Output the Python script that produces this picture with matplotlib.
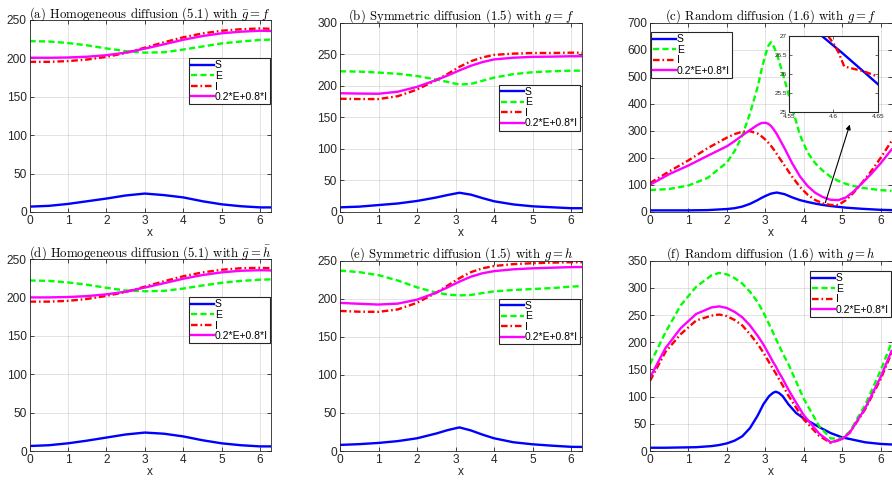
import numpy as np
import matplotlib
matplotlib.use("Agg")
import matplotlib.pyplot as plt

plt.rcParams['font.family'] = 'Liberation Sans'
plt.rcParams['mathtext.fontset'] = 'cm'

# x grids used for the read-off samples
xa = [0, 0.5, 1, 1.5, 2, 2.5, 3, 3.5, 4, 4.5, 5, 5.5, 6, 6.283]
xb = [0, 0.5, 1, 1.5, 2, 2.5, 2.8, 3.1, 3.4, 3.7, 4, 4.5, 5, 5.5, 6, 6.283]
xc = [0, 0.5, 1, 1.5, 2, 2.2, 2.4, 2.6, 2.8, 2.9, 3.0, 3.08, 3.15, 3.22, 3.3,
      3.5, 3.7, 3.9, 4.1, 4.3, 4.5, 4.7, 4.9, 5.1, 5.3, 5.5, 5.75, 6.0, 6.283]
xf = [0, 0.4, 0.8, 1.2, 1.6, 1.8, 2.0, 2.2, 2.4, 2.6, 2.8, 2.95, 3.1, 3.2, 3.27,
      3.35, 3.45, 3.6, 3.8, 4.0, 4.4, 4.7, 5.0, 5.2, 5.6, 6.0, 6.283]

# (a) homogeneous, g = f
Sa = [7, 8, 10.5, 14, 17.5, 21.5, 24, 22, 19, 14, 10, 7.5, 6, 6]
Ea = [222.5, 222, 220, 217, 213, 209.5, 207.5, 208, 211.5, 215.5, 219.5, 222, 224, 224.5]
Ia = [195.5, 195.5, 196.5, 198.5, 202, 207, 214, 221, 227.5, 232.5, 236, 238, 239, 238.5]
Ma = [200.9, 200.8, 201.2, 202.2, 204.2, 207.5, 212.7, 218.4, 224.3, 229.1, 232.7, 234.8, 236, 235.7]

# (b) symmetric, g = f
Sb = [7.4, 8.5, 11, 13.5, 17.5, 23, 27, 30.5, 27.5, 22, 17, 12, 9, 7.5, 6, 6]
Eb = [223, 222.5, 221, 219, 215.5, 210, 206, 202, 203, 208, 213, 218.5, 221.5, 223, 224, 224]
Ib = [179.5, 179, 179, 183.5, 194, 209, 219, 230, 239, 245, 249, 251, 252, 252, 252.5, 252.5]
Mb = [188.2, 187.7, 187.4, 190.6, 198.3, 209.2, 216.4, 224.4, 231.8, 237.6, 241.8, 244.5,
      245.9, 246.2, 246.8, 246.8]

# (c) random, g = f
Sc = [6, 6, 6, 7, 11, 14, 20, 30, 44, 52, 59, 64, 68, 70, 72,
      66, 54, 44, 37, 31, 26, 22, 19, 16, 14, 12, 10, 8, 7]
Ec = [81, 85, 98, 126, 183, 225, 282, 364, 462, 525, 580, 615, 628, 612, 585,
      490, 385, 285, 220, 180, 152, 130, 115, 104, 96, 90, 85, 81, 78]
Ic = [107, 150, 191, 236, 275, 288, 297, 299, 290, 280, 268, 256, 244, 231, 214,
      172, 130, 93, 64, 44, 32, 26, 26, 44, 72, 105, 150, 200, 262]
Mc = [101, 140, 172, 208, 243, 262, 283, 303, 322, 329, 330, 326, 318, 305, 288,
      236, 180, 132, 96, 71, 55, 45, 44, 54, 76, 104, 140, 180, 231]

# (d) homogeneous, g = h
Sd = [6.5, 7.5, 10, 13.5, 17.5, 21.5, 24, 22.5, 19, 14, 10, 7.5, 6, 6]
Ed = [222, 221.5, 219.5, 216.5, 212.5, 209, 208, 208.5, 211.5, 215.5, 219, 221.5, 223, 223.5]
Id = [194.5, 194.5, 195.5, 198, 202, 207, 214, 221, 227.5, 232.5, 236, 238, 238.5, 238]
Md = [200, 200, 200.5, 201.7, 204, 207.4, 212.8, 218.5, 224.3, 229.1, 232.6, 234.7,
      235.4, 235.1]

# (e) symmetric, g = h
Se = [8, 9, 10.6, 13, 16.7, 23, 27.5, 31, 27, 21.5, 16.7, 11.5, 8.8, 7, 5.5, 5.3]
Ee = [237, 235, 231, 224, 215, 208, 205.5, 204.4, 205, 207.5, 209.7, 211.5, 212.8, 214,
      215.9, 216.7]
Ie = [184, 183, 182.8, 186, 194.7, 208, 217.5, 227, 235, 240, 243, 245.5, 246.7, 247.5,
      248, 248]
Me = [194.6, 193.4, 192.4, 193.6, 198.8, 208, 215.1, 222.5, 229, 233.5, 236.3, 238.7,
      240, 240.8, 241.6, 241.7]

# (f) random, g = h
Sf = [6, 6, 6.5, 7, 9, 11, 14, 19, 27, 42, 65, 86, 101, 107, 109,
      107, 101, 86, 70, 60, 44, 33, 25, 22, 16, 13, 12]
Ef = [160, 218, 268, 302, 323, 327.6, 325, 318, 308, 293, 274, 255, 233, 218, 207,
      195, 180, 160, 128, 96, 46, 23, 23, 36, 85, 148, 199]
If = [129, 182, 215, 240, 249, 251, 248, 241, 231, 215, 197, 181, 163, 151, 143,
      133, 121, 102, 80, 58, 28, 15, 22, 34, 77, 132, 180]
Mf = [135, 189, 226, 252, 264, 266, 263, 256, 246, 231, 212, 196, 177, 164, 156,
      145, 133, 113, 89, 66, 32, 16, 22, 34, 79, 136, 184]

# zoomed window in (c)
xin_S = [4.587, 4.61, 4.633, 4.65]
yin_S = [27.0, 26.55, 26.08, 25.73]
xin_I = [4.594, 4.60, 4.606, 4.612, 4.62, 4.633, 4.65]
yin_I = [27.0, 26.8, 26.55, 26.2, 26.15, 26.08, 25.93]

labels = ['S', 'E', 'I', '0.2*E+0.8*I']
titles = [r'(a) Homogeneous diffusion (5.1) with $\bar{g}=f$',
          r'(b) Symmetric diffusion (1.5) with $g=f$',
          r'(c) Random diffusion (1.6) with $g=f$',
          r'(d) Homogeneous diffusion (5.1) with $\bar{g}=\bar{h}$',
          r'(e) Symmetric diffusion (1.5) with $g=h$',
          r'(f) Random diffusion (1.6) with $g=h$']

W, H = 892, 480
def rect(l, t, r, b):
    return [l / W, 1 - b / H, (r - l) / W, (b - t) / H]

gray = (0.15, 0.15, 0.15)
lw = 1.7
styles = [dict(color='#0000ff', ls='-'),
          dict(color='#00ff00', dashes=(2.6, 1.4)),
          dict(color='#ff0000', dashes=(2.8, 1.2, 0.7, 1.2)),
          dict(color='#ff00ff', ls='-')]

panels = [
    (rect(29.5, 20, 271, 212), xa, [Sa, Ea, Ia, Ma], 250, 50, ('upper right', (0.995, 0.80))),
    (rect(340, 22.7, 582, 212), xb, [Sb, Eb, Ib, Mb], 300, 50, ('upper right', (0.992, 0.672))),
    (rect(650, 22.7, 891.5, 212), xc, [Sc, Ec, Ic, Mc], 700, 100, ('upper left', (0.004, 0.95))),
    (rect(29.5, 259, 271, 451), xa, [Sd, Ed, Id, Md], 250, 50, ('upper right', (0.995, 0.80))),
    (rect(340, 260.7, 582, 451), xb, [Se, Ee, Ie, Me], 250, 50, ('upper right', (0.992, 0.80))),
    (rect(650, 260.7, 891.5, 451), xf, [Sf, Ef, If, Mf], 350, 50, ('upper right', (0.997, 0.945))),
]

fig = plt.figure(figsize=(W / 100, H / 100), dpi=100)

axes = []
for k, (pos, x, series, ymax, ystep, (loc, anchor)) in enumerate(panels):
    ax = fig.add_axes(pos)
    axes.append(ax)
    for y, st, lab in zip(series, styles, labels):
        ax.plot(x, y, lw=lw, label=lab, **st)
    ax.set_xlim(0, 2 * np.pi)
    ax.set_ylim(0, ymax)
    ax.set_xticks(range(0, 7))
    ax.set_yticks(np.arange(0, ymax + 1, ystep))
    ax.grid(True, color=gray, alpha=0.15, lw=0.6)
    ax.tick_params(direction='in', length=3, width=0.6, top=True, right=True,
                   labelsize=8.6, colors=gray, labelcolor=gray, pad=2)
    for sp in ax.spines.values():
        sp.set_color(gray)
        sp.set_linewidth(0.6)
    ax.set_xlabel('x', fontsize=8.6, color=gray, labelpad=0)
    ax.set_title(titles[k], fontsize=9.2, family='cmr10', pad=2)
    leg = ax.legend(loc=loc, bbox_to_anchor=anchor, fontsize=7.5, handlelength=2.2,
                    handletextpad=0.1, labelspacing=0.05, borderpad=0.2,
                    borderaxespad=0, fancybox=False, framealpha=1)
    leg.get_frame().set_edgecolor(gray)
    leg.get_frame().set_linewidth(0.8)

# arrow from the minimum region in (c) towards the inset
axes[2].annotate('', xy=(5.22, 333), xytext=(4.54, 25),
                 arrowprops=dict(arrowstyle='-|>', color='k', lw=0.8,
                                 mutation_scale=7))

ins = fig.add_axes(rect(789, 36, 878, 112))
ins.plot(xin_S, yin_S, lw=lw, **styles[0])
ins.plot(xin_I, yin_I, lw=lw, **styles[2])
ins.set_xlim(4.55, 4.65)
ins.set_ylim(25, 27)
ins.set_xticks([4.55, 4.6, 4.65])
ins.set_xticklabels(['4.55', '4.6', '4.65'])
ins.set_yticks([25, 25.5, 26, 26.5, 27])
ins.set_yticklabels(['25', '25.5', '26', '26.5', '27'])
ins.tick_params(direction='in', length=2, width=0.5, top=True, right=True,
                labelsize=4.6, colors=gray, labelcolor=gray, pad=1.5)
for sp in ins.spines.values():
    sp.set_color(gray)
    sp.set_linewidth(0.8)

fig.savefig('out.png', dpi=100)
